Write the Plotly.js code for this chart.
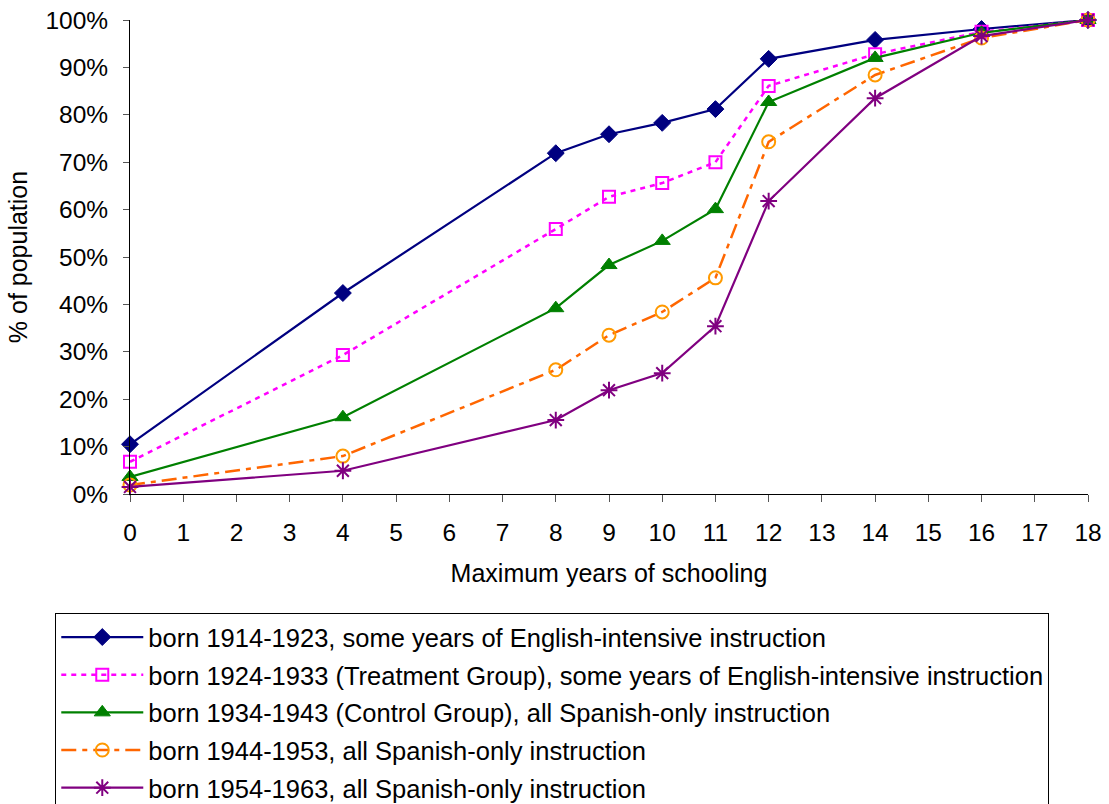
<!DOCTYPE html>
<html>
<head>
<meta charset="utf-8">
<script src="https://cdn.plot.ly/plotly-3.0.1.min.js"></script>
<style>html,body{margin:0;padding:0;background:#fff;}</style>
</head>
<body>
<div id="chart" style="width:1109px;height:804px;"></div>
<script>
const years = [0, 4, 8, 9, 10, 11, 12, 14, 16, 18];
const born1914 = [0.105, 0.424, 0.719, 0.759, 0.783, 0.812, 0.918, 0.958, 0.981, 1.0];
const born1924 = [0.068, 0.293, 0.559, 0.627, 0.656, 0.700, 0.861, 0.928, 0.975, 1.0];
const born1934 = [0.036, 0.162, 0.392, 0.483, 0.534, 0.601, 0.827, 0.920, 0.973, 1.0];
const born1944 = [0.019, 0.080, 0.262, 0.335, 0.384, 0.456, 0.743, 0.884, 0.962, 1.0];
const born1954 = [0.015, 0.049, 0.156, 0.219, 0.255, 0.354, 0.618, 0.835, 0.966, 1.0];
const seriesNames = [
  "born 1914-1923, some years of English-intensive instruction",
  "born 1924-1933 (Treatment Group), some years of English-intensive instruction",
  "born 1934-1943 (Control Group), all Spanish-only instruction",
  "born 1944-1953, all Spanish-only instruction",
  "born 1954-1963, all Spanish-only instruction"
];
const xTicks = [0,1,2,3,4,5,6,7,8,9,10,11,12,13,14,15,16,17,18];

const styles = [
  {line:{color:"#000080", width:2.2, dash:"solid"}, marker:{symbol:"diamond", size:13, color:"#000080", line:{color:"#000080", width:1}}},
  {line:{color:"#FF00FF", width:2.5, dash:"5px,5px"}, marker:{symbol:"square-open", size:12, color:"#FF00FF", line:{color:"#FF00FF", width:2}}},
  {line:{color:"#008000", width:2.2, dash:"solid"}, marker:{symbol:"triangle-up", size:14, color:"#008000", line:{color:"#008000", width:1}}},
  {line:{color:"#FF6600", width:2.5, dash:"15px,6px,5px,6px"}, marker:{symbol:"circle-open", size:13, color:"#FF9900", line:{color:"#FF9900", width:2}}},
  {line:{color:"#800080", width:2.2, dash:"solid"}, marker:{symbol:"asterisk-open", size:14, color:"#800080", line:{color:"#800080", width:2}}}
];
const data = [born1914, born1924, born1934, born1944, born1954];
const traces = data.map((ys, i) => ({
  x: years, y: ys, type: "scatter", mode: "lines+markers",
  name: seriesNames[i], legendgroup: "g" + i,
  line: styles[i].line, marker: styles[i].marker, cliponaxis: false
}));

const layout = {
  width: 1109, height: 804,
  margin: {l: 130, r: 21, t: 20, b: 310},
  paper_bgcolor: "#fff", plot_bgcolor: "#fff",
  font: {family: "Liberation Sans, Arial, sans-serif", size: 24.5, color: "#000"},
  showlegend: true,
  legend: {
    xref: "paper", x: -0.078, xanchor: "left",
    yref: "container", y: 0.2376, yanchor: "top",
    bordercolor: "#000", borderwidth: 1, bgcolor: "#fff",
    font: {size: 25.5, color: "#000"}, tracegroupgap: 1.5, itemwidth: 82
  },
  xaxis: {
    range: [0, 18], tickvals: xTicks, ticktext: xTicks.map(String),
    showgrid: false, zeroline: false, showline: true, linecolor: "#000", linewidth: 1,
    ticks: "outside", ticklen: 7, tickcolor: "#555", ticklabelstandoff: 10,
    tickfont: {size: 24.5},
    title: {text: "Maximum years of schooling", font: {size: 25}, standoff: 19}
  },
  yaxis: {
    range: [0, 1], dtick: 0.1, tickformat: ".0%",
    showgrid: false, zeroline: false, showline: true, linecolor: "#000", linewidth: 1,
    ticks: "outside", ticklen: 6, tickcolor: "#555", ticklabelstandoff: 10,
    tickfont: {size: 24.5},
    title: {text: "% of population", font: {size: 25}, standoff: 10}
  }
};
Plotly.newPlot("chart", traces, layout, {displayModeBar: false, staticPlot: true});
</script>
</body>
</html>
